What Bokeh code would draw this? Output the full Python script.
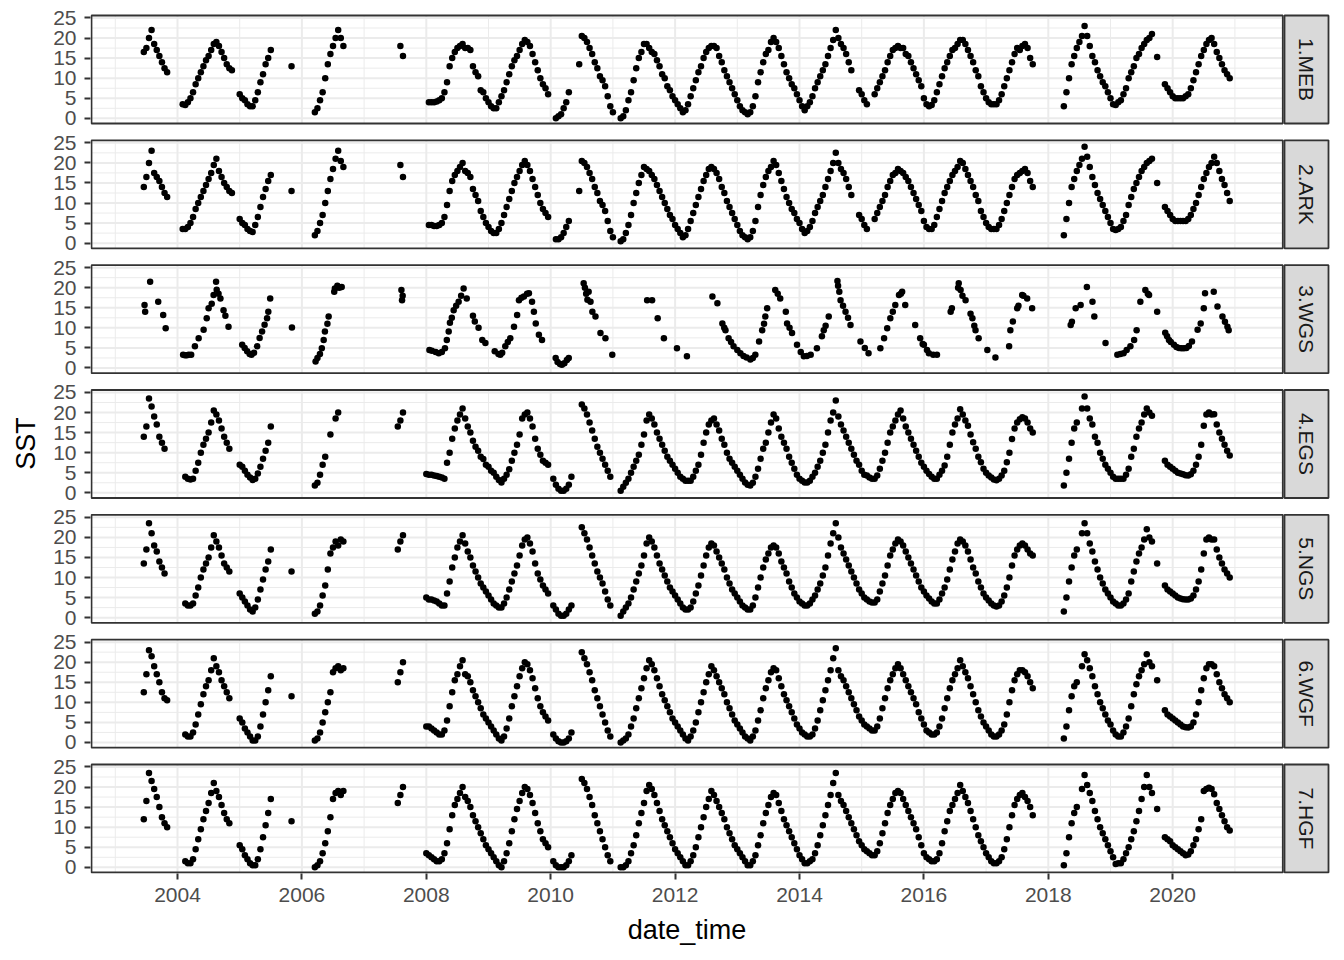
import math
from bokeh.plotting import figure
from bokeh.models import Range1d, FixedTicker, CustomJSTickFormatter, ColumnDataSource, Title
from bokeh.core.properties import value
from bokeh.embed import file_html
from bokeh.resources import INLINE

# ---------------- data ----------------
STATIONS = ["1.MEB", "2.ARK", "3.WGS", "4.EGS", "5.NGS", "6.WGF", "7.HGF"]
X_TICKS = [2004, 2006, 2008, 2010, 2012, 2014, 2016, 2018, 2020]
Y_TICKS = [0, 5, 10, 15, 20, 25]

# segments: (year, first half-month index, SST values every half month; None = no sample)
MEB = [
    (2003, 11, [16.5, 17.5, 20, 22, 18.5, 17, 15.5, 14, 12.5, 11.5]),
    (2004, 2, [3.5, 3.3, 4, 5, 6.5, 8.5, 10, 11.5, 13, 14.5, 15.5, 17, 18.5, 19, 18, 16.5, 15, 13.5, 12.5, 12]),
    (2005, 0, [6, 5, 4.5, 3.5, 3, 3, 4.5, 6.5, 9, 11, 13.5, 15, 17]),
    (2005, 20, [13]),
    (2006, 5, [1.5, 2.5, 4.5, 6.5, 10, 13.5, 16, 18, 20, 22, 20, 18]),
    (2007, 14, [18, 15.5]),
    (2008, 1, [4, 4, 4, 4.2, 4.5, 5, 6.5, 9, 13, 15, 16.5, 17.5, 18, 18.5, 17.5, 17.5, 17, 13, 11.5, 10.5, 7, 6.5, 5,
               4, 3, 2.5, 2.5, 4, 5.5, 7, 9, 11, 13, 14.5, 15.5, 17, 18.5, 19.5, 19, 18, 16, 14, 12, 10, 8.5, 7.5, 6]),
    (2010, 2, [0, 0.5, 1, 2.5, 4, 6.5]),
    (2010, 11, [13.5, 20.5, 20, 19, 17.5, 16, 14, 12.5, 10.5, 9.5, 8, 5.5, 3, 1.5]),
    (2011, 3, [0, 0.5, 2, 4.5, 6.5, 9.5, 12.5, 15, 16.5, 18.5, 18.5, 17.5, 16.5, 16, 14.5, 13, 11, 10, 8, 7, 5.5,
               4.5, 3.5, 2.5, 1.5, 2, 3.5, 5.5, 7.5, 9.5, 11.5, 13, 15, 16.5, 17.5, 18, 18, 17.5, 15.5, 14, 12, 10.5, 9, 7.5, 6,
               4.5, 3, 2, 1.5, 1, 1.5, 3, 5.5, 9, 11.5, 14, 16, 17, 19, 20, 19, 17.5, 15.5, 13.5, 11.5, 10, 8.5, 7.5, 6,
               4.5, 3, 2, 3, 4, 5.5, 7.5, 9, 10.5, 12, 13.5, 15.5, 17.5, 19.5, 22, 20, 18.5, 17.5, 16, 14, 12, None, None, 7,
               6, 4.5, 3.5]),
    (2015, 5, [6, 7.5, 9, 10.5, 12, 14, 15.5, 17, 17.5, 18, 17.5, 17.5, 16, 15.5, 14, 12.5, 11, 9.5, 8,
               5, 3.5, 3, 3.3, 4.5, 6.5, 8.5, 10.5, 12.5, 14, 15.5, 17, 17.5, 18.5, 19.5, 19.5, 18.5, 17, 15.5, 14, 12, 10.5, 8, 6.5,
               5, 4, 3.5, 3.5, 3.5, 4.5, 6, 8, 10, 12, 14, 16, 17.5, 17, 18, 18.5, 17.5, 15, 13.5]),
    (2018, 6, [3, 6.5, 10, 13.5, 15.5, 17.5, 19, 20.5, 23, 20.5, 18, 15.5, 14, 12, 10.5, 9, 8, 6.5,
               5, 3.5, 3.3, 4, 4.5, 6, 7.5, 10, 11.5, 13, 15, 16, 17.5, 18.5, 19.5, 20, 21]),
    (2019, 18, [15.3]),
    (2019, 21, [8.5, 7.5, 6.5, 5.5, 5, 5, 5, 5, 5.5, 6, 7.5, 9.5, 11.5, 13.5, 15.5, 17, 18.5, 19.5, 20, 18.5, 16.5, 15,
                13.5, 12, 11, 10]),
]

ARK = [
    (2003, 11, [14, 16.5, 20, 23, 17.5, 16.5, 15.5, 14, 12.5, 11.5]),
    (2004, 2, [3.5, 3.5, 4, 5, 6.5, 8.5, 10, 11.5, 13, 14.5, 16, 17.5, 19.5, 21, 18, 16.5, 15, 14, 13, 12.5]),
    (2005, 0, [6, 5, 4.5, 3.5, 3, 2.8, 4.5, 6.5, 9, 11.5, 13.5, 15.5, 17]),
    (2005, 20, [13]),
    (2006, 5, [2, 3, 5, 7, 10, 13, 16, 18.5, 21, 23, 20.5, 19]),
    (2007, 14, [19.5, 16.5]),
    (2008, 1, [4.5, 4.5, 4.3, 4.3, 4.5, 5, 6.5, 9.5, 13, 15.5, 17, 18, 19, 20, 18, 17.5, 16.5, 13.5, 12, 10.5, 8, 6.5, 5,
               4, 3, 2.5, 2.5, 3.5, 5, 7, 9, 11, 13, 15, 16.5, 18, 19.5, 20.5, 19.5, 18, 16, 14, 12, 10, 8.5, 7.5, 6.5]),
    (2010, 2, [1, 1, 1.5, 2.5, 4, 5.5]),
    (2010, 11, [13, 20.5, 20, 19, 17.5, 16, 14, 12.5, 10.5, 9.5, 8, 5.5, 3, 1.5]),
    (2011, 3, [0.5, 1, 2.5, 4.5, 7, 10, 12.5, 15, 17, 19, 18.5, 18, 17, 16, 14.5, 13, 11.5, 10, 8.5, 7, 6,
               4.5, 3.5, 2.5, 1.5, 2, 3.5, 5.5, 7.5, 9.5, 11.5, 13.5, 15.5, 17, 18.5, 19, 18.5, 17.5, 16, 14, 12.5, 10.5, 9, 7.5, 6,
               4.5, 3, 2, 1.5, 1, 1.5, 3, 5.5, 9, 12, 14.5, 16.5, 18, 19, 20.5, 19.5, 17.5, 15.5, 13.5, 11.5, 10, 8.5, 7.5, 6,
               5, 3.5, 2.5, 3, 4, 5.5, 7.5, 9, 10.5, 12, 14, 16, 18, 20, 22.5, 20, 18.5, 17.5, 16, 14, 12, None, None, 7,
               6, 4.5, 3.5]),
    (2015, 5, [6, 7.5, 9, 10.5, 12, 14, 15.5, 17, 17.5, 18.5, 18, 17.5, 16.5, 15.5, 14, 12.5, 11, 9.5, 8,
               5.5, 4, 3.5, 3.5, 4.5, 6.5, 8.5, 10.5, 12.5, 14, 15.5, 17, 18, 19, 20.5, 20, 18.5, 17, 15.5, 14, 12, 10.5, 8, 6.5,
               5, 4, 3.5, 3.5, 3.5, 4.5, 6, 8, 10, 12, 14, 16, 17, 17.5, 18, 18.5, 17.5, 15.5, 14]),
    (2018, 6, [2, 6, 10, 14, 16, 18, 19.5, 21, 24, 21.5, 19, 16.5, 14.5, 12.5, 11, 9.5, 8, 6.5,
               5, 3.5, 3.3, 3.5, 4, 5.5, 7, 9.5, 11.5, 13.5, 15, 16.5, 18, 19, 20, 20.5, 21]),
    (2019, 18, [15]),
    (2019, 21, [9, 8, 7, 6, 5.5, 5.5, 5.5, 5.5, 5.5, 6, 7, 8.5, 10, 12, 14, 16, 17.5, 19, 20, 21.5, 20, 18, 16, 14.5,
                12.5, 10.5]),
]

# WGS is sampled sparsely: decimal-year dates and SST
WGS_T = [2003.47, 2003.48, 2003.56, 2003.69, 2003.77, 2003.81,
         2004.09, 2004.12, 2004.15, 2004.18, 2004.22, 2004.28, 2004.34, 2004.42, 2004.47, 2004.5, 2004.55, 2004.58,
         2004.62, 2004.63, 2004.66, 2004.69, 2004.74, 2004.77, 2004.82,
         2005.04, 2005.08, 2005.12, 2005.16, 2005.19, 2005.23, 2005.28, 2005.32, 2005.36, 2005.4, 2005.44, 2005.46,
         2005.49, 2005.84,
         2006.22, 2006.25, 2006.29, 2006.32, 2006.35, 2006.37, 2006.41, 2006.43, 2006.52, 2006.53, 2006.57, 2006.6,
         2006.64, 2007.6, 2007.61, 2007.62,
         2008.05, 2008.09, 2008.15, 2008.2, 2008.25, 2008.3, 2008.33, 2008.36, 2008.38, 2008.41, 2008.44, 2008.48,
         2008.52, 2008.56, 2008.6, 2008.65, 2008.75, 2008.78, 2008.84, 2008.9, 2008.95, 2009.1, 2009.16,
         2009.19, 2009.22, 2009.27, 2009.31, 2009.35, 2009.41, 2009.46, 2009.49, 2009.53, 2009.57, 2009.62, 2009.65,
         2009.7, 2009.73, 2009.76, 2009.81, 2009.86,
         2010.08, 2010.11, 2010.15, 2010.18, 2010.22, 2010.26, 2010.29, 2010.53, 2010.55, 2010.57, 2010.59, 2010.61,
         2010.64, 2010.67, 2010.72, 2010.8, 2010.88, 2010.99,
         2011.55, 2011.63, 2011.72, 2011.82, 2012.03, 2012.19,
         2012.6, 2012.68, 2012.76, 2012.79, 2012.81, 2012.86, 2012.9, 2012.94, 2013.0, 2013.05, 2013.1, 2013.15,
         2013.21, 2013.25, 2013.29, 2013.35, 2013.4, 2013.43, 2013.45, 2013.48,
         2013.61, 2013.65, 2013.69, 2013.78, 2013.8, 2013.84, 2013.88, 2013.96, 2014.02, 2014.07, 2014.12, 2014.18,
         2014.28, 2014.36, 2014.39, 2014.42, 2014.47, 2014.61, 2014.62, 2014.64, 2014.66, 2014.7, 2014.74, 2014.78,
         2014.82, 2014.98, 2015.05, 2015.11,
         2015.3, 2015.36, 2015.41, 2015.46, 2015.5, 2015.54, 2015.6, 2015.63, 2015.65, 2015.7, 2015.86, 2015.94,
         2015.98, 2016.0, 2016.05, 2016.08, 2016.15, 2016.21,
         2016.43, 2016.45, 2016.55, 2016.56, 2016.59, 2016.62, 2016.67, 2016.75, 2016.78, 2016.81, 2016.83, 2016.88,
         2017.02, 2017.15,
         2017.37, 2017.39, 2017.43, 2017.5, 2017.52, 2017.58, 2017.6, 2017.66, 2017.74,
         2018.36, 2018.38, 2018.44, 2018.52, 2018.62, 2018.71, 2018.74, 2018.92,
         2019.11, 2019.16, 2019.21, 2019.26, 2019.32, 2019.38, 2019.42, 2019.48, 2019.56, 2019.6, 2019.62, 2019.75,
         2019.88, 2019.91, 2019.94, 2019.97, 2020.02, 2020.06, 2020.1, 2020.14, 2020.18, 2020.22, 2020.26, 2020.31,
         2020.4, 2020.45, 2020.5, 2020.52, 2020.66, 2020.72, 2020.8, 2020.84, 2020.88, 2020.9]
WGS_V = [15.7, 14, 21.5, 16.5, 13.2, 9.9,
         3.3, 3.2, 3.2, 3.3, 3.3, 5.4, 7.4, 9.5, 12.4, 14.9, 16, 18.2,
         21.5, 19.5, 18.5, 17.3, 14.4, 13, 10.3,
         5.8, 5, 4.2, 3.5, 3.3, 3.8, 5.4, 7.5, 9.1, 10.8, 12.4, 14,
         17.3, 10.1,
         1.6, 2.5, 3.5, 4.9, 7, 9.1, 11, 12.8, 19, 19.8, 20.5, 20,
         20.2, 19.4, 16.9, 18,
         4.5, 4.3, 4, 3.7, 4, 4.9, 7, 9.1, 11.3, 12.5, 14.4, 15.5,
         16.5, 18, 19.8, 17.3, 13, 11.6, 10, 7, 6.2, 4.2, 3.5,
         3.3, 3.8, 5.4, 6.5, 7.4, 10.3, 13.2, 16.9, 17.5, 17.8, 18.5, 18.6,
         16.5, 14, 11.1, 8.3, 7,
         2.5, 1.5, 1, 0.8, 1.2, 2, 2.5, 21.1, 20, 18.5, 17, 19,
         16.5, 14, 12.8, 8.7, 7.4, 3.3,
         16.9, 16.9, 12.4, 7.4, 4.9, 2.9,
         17.8, 16.1, 11.1, 10, 9.4, 7.4, 6.5, 5.4, 4.5, 3.7, 3, 2.6,
         2.1, 2.5, 3.3, 6.6, 9.4, 11, 12.8, 14.9,
         19.4, 18.5, 17.3, 14, 11.1, 10, 8.7, 5.8, 4, 2.9, 3, 3.3,
         4.9, 7.9, 9.4, 10.5, 12.8, 21.7, 20.5, 19, 16.9, 15.5, 14, 12.5,
         10.7, 6.6, 5, 3.7,
         4.9, 7.4, 9.9, 12.4, 14, 15.7, 18.2, 18.5, 19, 15.7, 10.7, 7.4,
         6, 5.8, 4.5, 3.7, 3.3, 3.3,
         14, 14.9, 20, 21.1, 19.4, 18, 16.9, 13.5, 12.4, 10.5, 9.4, 7.4,
         4.5, 2.6,
         5.4, 9.4, 11.6, 14.9, 15.5, 18.2, 18, 17.3, 14.9,
         10.7, 11.5, 14.9, 15.7, 20.2, 16.5, 12.8, 6.2,
         3.3, 3.5, 3.7, 4.5, 5.4, 7, 9.4, 16.5, 19.4, 18.5, 18.2, 14,
         8.8, 7.9, 7, 6.5, 5.8, 5.2, 5, 4.9, 4.9, 5, 5.5, 6.6,
         9.5, 11.1, 14.9, 18.6, 19, 15.3, 12.8, 11.5, 10.3, 9.4]

EGS = [
    (2003, 11, [14, 16.5, 23.5, 21.5, 19, 17, 14, 12.5, 11]),
    (2004, 3, [4, 3.5, 3.3, 3.5, 5.5, 7.5, 10, 12, 13.5, 15, 17.5, 20.5, 19.5, 18, 16, 14, 12.5, 11]),
    (2005, 0, [7, 6.5, 5.5, 4.5, 3.8, 3.2, 3.5, 4.8, 6.5, 8.5, 10.5, 12.5, 16.5]),
    (2006, 5, [1.8, 2.5, 4.5, 7, 9, None, 14.5, None, 18.5, 20]),
    (2007, 13, [16.5, 18, 20]),
    (2008, 0, [4.7, 4.5, 4.5, 4.3, 4.2, 4, 3.8, 3.5, 7.5, 10, 13.5, 16, 18, 19.5, 21, 18.5, 16.5, 15, 13, 11.5, 10.5, 9, 8.4, 7,
               6.5, 5.5, 5, 4, 3.2, 2.6, 3.5, 4.5, 5.9, 8, 10, 12, 14.5, 18.5, 19.5, 20, 18.5, 16.5, 13.5, 11, 9.5, 8, 7.5, 7]),
    (2010, 1, [3.5, 2, 1, 0.5, 0.5, 1, 2, 4]),
    (2010, 12, [22, 21, 19.5, 17.5, 15.5, 13.5, 11.5, 10, 8.5, 7, 5.5, 4]),
    (2011, 3, [0.5, 1.5, 2.5, 3.5, 5, 6.5, 8, 9.5, 12, 14.5, 18, 19.5, 18.5, 17, 15, 13.5, 12, 10.5, 9, 8, 7,
               6, 5, 4, 3.5, 3, 3, 3, 4, 5.5, 7, 9.5, 12.5, 15, 17, 18, 18.5, 17, 15.5, 13.5, 12, 10, 8.5, 7.5, 6.5,
               5.5, 4.5, 3.5, 2.6, 2, 1.8, 2.5, 4, 6, 8.5, 11, 12.5, 15, 17.5, 19.5, 18.5, 16, 14, 12.5, 11, 9, 7.5, 6, 4.5,
               3.5, 3, 2.6, 2.6, 3, 4, 5, 6.5, 8, 10, 12, 15, 18, 20, 23, 19, 17, 15.5, 14, 12.5, 11, 9.5, 8, 7,
               5.5, 4.5, 4.3, 3.8, 3.5, 3.5, 4.3, 6, 8, 10, 12.5, 15, 16.5, 18, 19.5, 20.5, 18.5, 16.5, 15, 13.5, 12, 10.5, 9, 7.5,
               6.5, 5.5, 4.7, 4, 3.5, 3.5, 4.5, 5.5, 6.8, 9, 12, 15, 17, 18.5, 20.8, 19.5, 18, 16.7, 14.5, 12.6, 11, 9, 7.6, 6,
               5, 4.3, 3.8, 3.3, 3.1, 3.5, 4.3, 5.5, 7.6, 10, 13.4, 16, 17.5, 18.3, 18.8, 18.5, 17.5, 16, 15]),
    (2018, 6, [1.8, 5, 8.5, 12.5, 16, 17.5, None, 21, 24, 21, 18.5, 17, 14, 12.5, 10, 8.5, 7, 6,
               5, 4, 3.5, 3.5, 3.5, 3.5, 4.5, 6, 9, 11, 14, 16, 17.5, 19.5, 21, 20, 19.2]),
    (2019, 21, [8, 7, 6.5, 6, 5.5, 5, 4.8, 4.6, 4.4, 4.3, 4.6, 5.5, 7, 9, 12, 16.7, 19.5, 20, 19.5, 19.6, 17, 15,
                13.5, 12, 10.5, 9.3]),
]

NGS = [
    (2003, 11, [13.5, 17, 23.5, 21, 18, 16.5, 14, 12.5, 11]),
    (2004, 3, [3.5, 3, 3, 3.5, 5.5, 7.5, 10, 12, 13.5, 15, 17.5, 20.5, 19, 17.5, 15.5, 13.5, 12.5, 11.5]),
    (2005, 0, [6, 5, 4, 3, 2, 1.5, 2.5, 4.5, 7, 9.5, 12, 14, 17]),
    (2005, 20, [11.5]),
    (2006, 5, [1, 1.5, 3, 5.5, 8, 12, 16, 17.5, 19, 18, 19.5, 19]),
    (2007, 13, [17, 19, 20.5]),
    (2008, 0, [5, 4.5, 4.5, 4.3, 4, 3.5, 3, 3, 6, 9, 12.5, 15, 17.5, 19, 20.5, 18.5, 16.5, 15, 13, 11.5, 10, 8.5, 7.5, 6.5,
               5.5, 4.5, 3.5, 3, 2.5, 2.5, 3.5, 5, 7, 9, 11, 13, 15.5, 18, 19.5, 20, 18.5, 16.5, 13.5, 11, 9.5, 8, 7, 6]),
    (2010, 1, [3, 2, 1, 0.5, 0.5, 1, 2, 3]),
    (2010, 12, [22.5, 21, 19.5, 17.5, 15.5, 13.5, 11.5, 10, 8.5, 6.5, 4.5, 3]),
    (2011, 3, [0.5, 1.5, 2.5, 3.5, 5, 7, 9, 11, 13, 15.5, 18.5, 20, 19, 17.5, 15.5, 13.5, 12, 10.5, 9, 7.5, 6.5,
               5.5, 4.5, 3.5, 2.5, 2, 2, 2.5, 4, 6, 8, 10.5, 13, 15.5, 17.5, 18.5, 18, 16.5, 15, 13.5, 12, 10, 8.5, 7, 6,
               5, 4, 3, 2.5, 2, 2, 3, 5, 7.5, 10, 12.5, 14.5, 16, 17.5, 18, 17.5, 16, 14, 12.5, 11, 9, 7.5, 6, 5,
               4, 3.5, 3, 3, 3.5, 4.5, 5.5, 7, 8.5, 10.5, 12.5, 15.5, 18.5, 21, 23.5, 20, 17.5, 16, 14.5, 13, 11.5, 10, 8.5, 7,
               6, 5, 4.5, 4, 3.8, 3.8, 4.5, 6.5, 8.5, 10.5, 13, 15.5, 17, 18.5, 19.5, 19, 18, 16.5, 15, 13.5, 12, 10.5, 9, 7.5,
               6.5, 5.5, 4.8, 4, 3.5, 3.5, 4.5, 6, 7.5, 9.5, 12, 14.5, 16.5, 18.5, 19.5, 19, 18, 16.5, 14.5, 12.5, 11, 9, 7.5, 6,
               5, 4.3, 3.5, 3, 2.8, 3, 4, 5.5, 7.5, 10, 13, 15.5, 17, 18, 18.5, 18, 17, 16, 15.5]),
    (2018, 6, [1.5, 5, 9, 12.5, 15.5, 17, None, 21, 23.5, 21, 18.5, 16.5, 14, 12, 10, 8.5, 7, 6,
               5, 4, 3.5, 3, 3, 3.5, 4.5, 6, 9, 11.5, 14, 16, 17.5, 19.5, 22, 20, 19]),
    (2019, 18, [13.5]),
    (2019, 21, [8, 7, 6.5, 6, 5.5, 5, 4.8, 4.6, 4.5, 4.5, 4.8, 5.5, 7, 9, 12, 16, 19.5, 20, 19.5, 19.5, 17, 15,
                13.5, 12, 11, 10]),
]

WGF = [
    (2003, 11, [12.5, 17, 23, 21.5, 19, 17, 15, 12.5, 11, 10.5]),
    (2004, 3, [2, 1.5, 1.5, 2.5, 4.5, 7, 9.5, 12, 14, 15.5, 18, 21, 19, 17.5, 15.5, 14, 12.5, 11]),
    (2005, 0, [6, 5, 3.5, 2.5, 1.5, 0.5, 0.5, 1.5, 4, 7, 10, 13, 16.5]),
    (2005, 20, [11.5]),
    (2006, 5, [0.5, 1, 2.5, 5, 7.5, 10, 12.5, 17.5, 18.5, 19, 18, 18.5]),
    (2007, 13, [15, 17.5, 20]),
    (2008, 0, [4, 4, 3.5, 3, 2.5, 2, 2, 3, 5.5, 9, 12.5, 15.5, 17, 19, 20.5, 17, 16.5, 15, 13, 11.5, 10, 8.5, 7, 6,
               5, 4, 3, 2, 1, 0.5, 1.5, 3.5, 6, 9, 11.5, 14, 16.5, 18.5, 20, 19.5, 18, 16, 13.5, 11, 9, 7.5, 6.5, 5.5]),
    (2010, 1, [2, 1, 0.3, 0, 0, 0.3, 1, 2.5]),
    (2010, 12, [22.5, 21, 19.5, 17.5, 15.5, 13, 11, 9, 7, 5, 3, 1.5]),
    (2011, 3, [0, 0.5, 1, 2, 4, 6, 8.5, 11, 13.5, 16, 18.5, 20.5, 19.5, 18, 16, 14, 12, 10.5, 9, 7.5, 6,
               5, 4, 3, 2, 1, 0.5, 1.5, 3, 5, 7.5, 10, 12.5, 15, 17, 19, 18, 16.5, 15, 13.5, 12, 10, 8.5, 7, 5.5,
               4.5, 3.5, 2.5, 1.5, 1, 0.5, 1.5, 3, 5.5, 8, 11, 13.5, 15.5, 17.5, 18.5, 18, 16, 14, 12, 10.5, 9, 7.5, 6, 4.5,
               3.5, 2.5, 2, 1.5, 1.5, 2, 3.5, 5.5, 8, 10.5, 13, 15.5, 18, 21, 23.5, 18, 16.5, 15.5, 14, 12.5, 11, 9.5, 8, 6.5,
               5.5, 4.5, 4, 3.5, 3, 3, 4, 6, 8.5, 11, 13.5, 15.5, 17, 18.5, 19.5, 18.5, 17, 15.5, 14, 12.5, 11, 9.5, 7.5, 6,
               4.5, 3, 2.5, 2, 2, 2.5, 4, 6, 8.5, 11, 13.5, 15.5, 17, 18.5, 20.5, 19, 17.5, 16, 14, 12, 10, 8, 6.5, 5,
               4, 3, 2, 1.5, 1.5, 2, 3, 4.5, 7, 10, 13, 15.5, 17, 18, 18, 17.5, 16.5, 15, 13.5]),
    (2018, 6, [1, 4, 8, 11.5, 14, 15, None, 19, 22, 20.5, 18.5, 16.5, 14, 12, 10, 8.5, 7, 5.5,
               4.5, 3, 2, 1.5, 1.5, 2.5, 4, 6, 9, 12, 14.5, 16.5, 18, 19.5, 22, 20, 19]),
    (2019, 18, [15.5]),
    (2019, 21, [8, 7, 6.5, 6, 5.5, 5, 4.5, 4, 3.8, 3.7, 4, 5, 7, 10, 13, 16, 18.5, 19.5, 19.5, 19, 17, 15, 13.5, 12,
                11, 10]),
]

HGF = [
    (2003, 11, [12, 16.5, 23.5, 21.5, 19.5, 17.5, 15, 12.5, 11, 10]),
    (2004, 3, [1.5, 1, 1, 2, 4.5, 7, 9.5, 12, 14, 16, 18.5, 21, 19, 17.5, 15.5, 13.5, 12, 11]),
    (2005, 0, [5.5, 4.5, 3, 2, 1, 0.5, 0.5, 2, 4.5, 7.5, 10.5, 13.5, 17]),
    (2005, 20, [11.5]),
    (2006, 5, [0, 0.5, 1.5, 3.5, 6, 9, 12.5, 17, 18.5, 19, 18, 19]),
    (2007, 13, [16, 18, 20]),
    (2008, 0, [3.5, 3, 2.5, 2, 1.5, 1.5, 2, 3.5, 6, 9.5, 13, 15.5, 17, 18.5, 20, 17.5, 16.5, 15, 13, 11.5, 10, 8.5, 7, 5.5,
               4.5, 3.5, 2.5, 1.5, 0.5, 0, 1.5, 3.5, 6, 9, 12, 14.5, 16.5, 18.5, 20, 19.5, 18, 16, 13.5, 11, 9, 7, 6, 5]),
    (2010, 1, [1.5, 0.5, 0, 0, 0, 0.5, 1.5, 3]),
    (2010, 12, [22, 21, 19.5, 17.5, 15.5, 13, 11, 9, 7, 5, 3, 1.5]),
    (2011, 3, [0, 0, 0.5, 1.5, 3.5, 5.5, 8, 11, 13.5, 16, 19, 20.5, 19.5, 18, 16, 14, 12, 10.5, 9, 7.5, 6,
               4.5, 3.5, 2.5, 1.5, 0.5, 0.5, 1.5, 3, 5, 7.5, 10, 12.5, 15, 17, 19, 18, 16.5, 15, 13.5, 12, 10, 8.5, 7, 5.5,
               4.5, 3.5, 2.5, 1.5, 0.5, 0.5, 1.5, 3, 5.5, 8, 11, 13.5, 15.5, 17.5, 18.5, 18, 16, 14, 12, 10.5, 9, 7.5, 6, 4.5,
               3, 2, 1, 1, 1.5, 2, 3.5, 5.5, 8, 10.5, 13, 15.5, 18, 21, 23.5, 18, 16.5, 15.5, 14, 12.5, 11, 9.5, 8, 6.5,
               5.5, 4.5, 4, 3.5, 3, 3, 4, 6, 8.5, 11, 13.5, 15.5, 17, 18.5, 19, 18.5, 17, 15.5, 14, 12.5, 11, 9.5, 7.5, 5.5,
               3.5, 2.5, 2, 1.5, 1.5, 2, 3.5, 6, 9, 11.5, 14, 15.5, 17, 18.5, 20.5, 19, 17.5, 16, 14, 12, 10, 8, 6.5, 5,
               3.5, 2.5, 1.5, 1, 1, 1.5, 2.5, 4.5, 7, 10, 13, 15.5, 17, 18, 18.5, 17.5, 16.5, 15, 13]),
    (2018, 6, [0.5, 3.5, 7.5, 11, 13.5, 15, None, 19.5, 23, 20.5, 18.5, 16.5, 14, 12, 10, 8.5, 7, 5.5,
               4, 2.5, 0.8, 1, 1, 2, 3.5, 5, 7, 9, 11.5, 14, 17, 20, 23, 20, 18.5]),
    (2019, 18, [14.5]),
    (2019, 21, [7.5, 7, 6.5, 5.5, 5, 4.5, 4, 3.5, 3, 3.2, 4, 5.5, 7, 9.5, 12, 19, 19.5, 19.8, 19.5, 18.2, 16, 14.5,
                13, 11.5, 10, 9.2]),
]

SEGMENTS = {"1.MEB": MEB, "2.ARK": ARK, "4.EGS": EGS, "5.NGS": NGS, "6.WGF": WGF, "7.HGF": HGF}


def expand(segs):
    xs, ys = [], []
    for year, k0, vals in segs:
        for j, v in enumerate(vals):
            if v is None:
                continue
            xs.append(year + (k0 + j) / 24.0)
            ys.append(v)
    return xs, ys


# ---------------- layout (pixels of the 1344x960 page) ----------------
W, H = 1344, 960
FL, FR, FT, FB = 90, 1330, 13, 873          # plotting frame
PX_YEAR, PX_2004 = 62.2, 177.0
def yr(px):
    return 2004 + (px - PX_2004) / PX_YEAR

PANEL_L, PANEL_R = yr(91), yr(1282.3)
STRIP_L, STRIP_R = yr(1284), yr(1328)
YLO, YHI = -1.29, 25.62
PANEL_PX, PANEL_TOP0, PITCH_PX = 108.0, 15.0, 124.83
U = (YHI - YLO) / PANEL_PX
TOTAL = (FB - FT) * U

p = figure(width=W, height=H, x_range=Range1d(yr(FL), yr(FR)), y_range=Range1d(0, TOTAL),
           output_backend="svg", toolbar_location=None,
           min_border_left=FL, min_border_right=W - FR, min_border_top=FT, min_border_bottom=H - FB)
p.outline_line_color = None
p.xgrid.visible = False
p.ygrid.visible = False
p.background_fill_color = "white"
p.border_fill_color = "white"

zs = []
extra = {}
for i, st in enumerate(STATIONS):
    bot_px = PANEL_TOP0 + i * PITCH_PX + PANEL_PX
    yb = (FB - bot_px) * U
    start = YLO - yb
    extra[f"p{i}"] = Range1d(start, start + TOTAL)
    zs.append(yb - YLO)
p.extra_y_ranges = extra

GRID = "#EBEBEB"
major_x = list(range(2004, 2021, 2))
minor_x = list(range(2003, 2022, 2))
major_y = [0, 5, 10, 15, 20, 25]
minor_y = [2.5, 7.5, 12.5, 17.5, 22.5]

for i, st in enumerate(STATIONS):
    rn = f"p{i}"
    p.segment(x0=minor_x, x1=minor_x, y0=[YLO] * len(minor_x), y1=[YHI] * len(minor_x),
              line_color=GRID, line_width=1.0, y_range_name=rn)
    p.segment(x0=[PANEL_L] * len(minor_y), x1=[PANEL_R] * len(minor_y), y0=minor_y, y1=minor_y,
              line_color=GRID, line_width=1.0, y_range_name=rn)
    p.segment(x0=major_x, x1=major_x, y0=[YLO] * len(major_x), y1=[YHI] * len(major_x),
              line_color=GRID, line_width=2.0, y_range_name=rn)
    p.segment(x0=[PANEL_L] * len(major_y), x1=[PANEL_R] * len(major_y), y0=major_y, y1=major_y,
              line_color=GRID, line_width=2.0, y_range_name=rn)

    if st == "3.WGS":
        xs, ys = WGS_T, WGS_V
    else:
        xs, ys = expand(SEGMENTS[st])
    src = ColumnDataSource(dict(x=xs, y=ys))
    p.scatter("x", "y", source=src, size=6.5, color="black", line_width=0, y_range_name=rn)

    p.quad(left=[PANEL_L], right=[PANEL_R], bottom=[YLO], top=[YHI], fill_color=None,
           line_color="#333333", line_width=1.8, y_range_name=rn)
    p.quad(left=[STRIP_L], right=[STRIP_R], bottom=[YLO], top=[YHI], fill_color="#D9D9D9",
           line_color="#333333", line_width=1.8, y_range_name=rn)
    p.text(x=[(STRIP_L + STRIP_R) / 2], y=[(YLO + YHI) / 2], text=[st], angle=-math.pi / 2,
           text_align="center", text_baseline="middle", text_font=value("Liberation Sans"),
           text_font_size="21px", text_color="#1A1A1A", y_range_name=rn)

# axes
xa = p.xaxis[0]
xa.ticker = FixedTicker(ticks=X_TICKS, minor_ticks=[])
ya = p.yaxis[0]
ya.ticker = FixedTicker(ticks=[z + v for z in zs for v in Y_TICKS], minor_ticks=[])
zs_sorted = sorted(zs)
ya.formatter = CustomJSTickFormatter(code="""
const zs = %s;
let b = zs[0];
for (const z of zs) { if (tick >= z - 0.001) { b = z; } }
return String(Math.round(tick - b));
""" % str([round(z, 4) for z in zs_sorted]))

for ax in (xa, ya):
    ax.axis_line_color = None
    ax.major_tick_line_color = "#333333"
    ax.major_tick_line_width = 2
    ax.major_tick_out = 6
    ax.major_tick_in = 0
    ax.minor_tick_line_color = None
    ax.major_label_text_font = "Liberation Sans"
    ax.major_label_text_font_size = "21px"
    ax.major_label_text_color = "#4D4D4D"
    ax.axis_label_text_font = "Liberation Sans"
    ax.axis_label_text_font_size = "27px"
    ax.axis_label_text_font_style = "normal"
    ax.axis_label_text_color = "black"

xa.major_label_standoff = 8
ya.axis_label = "SST"
ya.major_label_standoff = 8
ya.axis_label_standoff = 9

# x-axis title centred under the panels (not under the strips): a title below the axis
TITLE_W = 119  # approx. rendered width of "date_time" at 27px
p.add_layout(Title(text="date_time", align="left", offset=(1282.3 + 91) / 2 - TITLE_W / 2 - FL,
                   text_font="Liberation Sans", text_font_size="27px", text_font_style="normal",
                   text_color="black", standoff=16), "below")

open("out.html", "w").write(file_html(p, INLINE))
